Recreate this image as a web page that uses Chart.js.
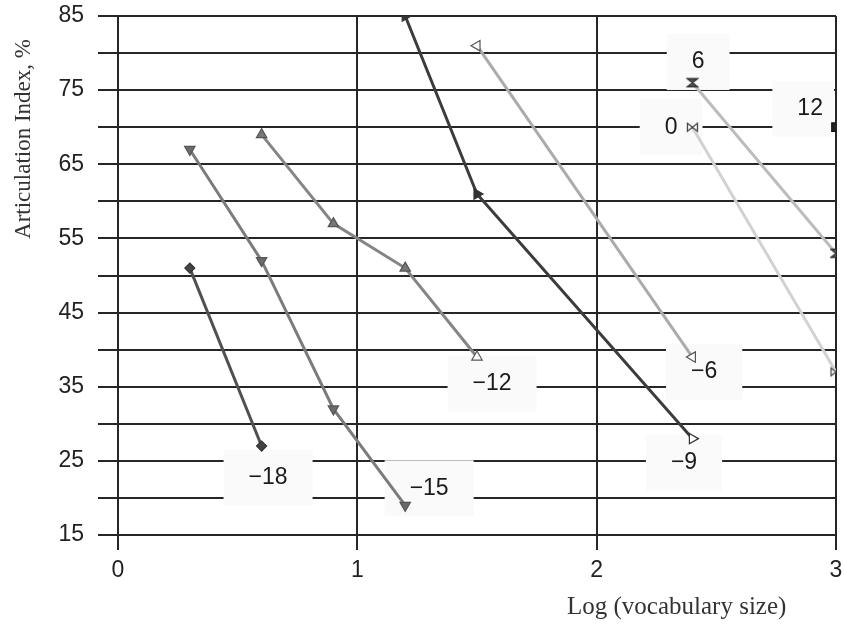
<!DOCTYPE html>
<html>
<head>
<meta charset="utf-8">
<script src="https://cdn.jsdelivr.net/npm/chart.js@4.4.0/dist/chart.umd.min.js"></script>
<style>
html,body{margin:0;padding:0;background:#fff;}
#wrap{width:844px;height:629px;}
</style>
</head>
<body>
<div id="wrap"><canvas id="chart" width="844" height="629"></canvas></div>
<script>
// SNR (dB) curves: articulation index vs log vocabulary size
const snrLabels = ['\u221218','\u221215','\u221212','\u22129','\u22126','0','6','12'];
const logVocab = [[0.3,0.6],[0.3,0.6,0.9,1.2],[0.6,0.9,1.2,1.5],[1.2,1.5,2.4],[1.5,2.4],[2.4,3],[2.4,3],[3]];
const artIndex = [[51,27],[67,52,32,19],[69,57,51,39],[85,61,28],[81,39],[70,37],[76,53],[70]];
const xTicks = [0,1,2,3];
const yLabelTicks = [15,25,35,45,55,65,75,85];
// where each SNR label sits (data units)
const labelX = [0.627,1.30,1.563,2.365,2.449,2.311,2.424,2.892];
const labelY = [22.7,21.3,35.4,24.8,37.0,70.0,78.8,72.5];

const GRID = '#262626';
const TICKFONT = {family:"'Liberation Sans', Arial, sans-serif", size:23};

// small canvas markers for the bowtie / hourglass symbols
function makeMarker(kind, fill, stroke){
  const c = document.createElement('canvas');
  c.width = 13; c.height = 11;
  const g = c.getContext('2d');
  g.fillStyle = fill; g.strokeStyle = stroke; g.lineWidth = 1.3;
  g.beginPath();
  if(kind === 'bowtie'){
    g.moveTo(1.5,1.5); g.lineTo(1.5,9.5); g.lineTo(6.5,5.5); g.closePath();
    g.moveTo(11.5,1.5); g.lineTo(11.5,9.5); g.lineTo(6.5,5.5); g.closePath();
  }else{
    g.moveTo(1.5,1.5); g.lineTo(11.5,1.5); g.lineTo(6.5,5.5); g.closePath();
    g.moveTo(1.5,9.5); g.lineTo(11.5,9.5); g.lineTo(6.5,5.5); g.closePath();
  }
  g.fill(); g.stroke();
  return c;
}

const seriesStyle = [
  {line:'#505050', fill:'#444', border:'#333', style:'rectRot', rot:0, r:5},
  {line:'#7b7b7b', fill:'#6a6a6a', border:'#555', style:'triangle', rot:180, r:6},
  {line:'#858585', fill:['#777','#777','#777','#fff'], border:'#555', style:'triangle', rot:0, r:6},
  {line:'#3c3c3c', fill:['#333','#333','#fff'], border:'#333', style:'triangle', rot:90, r:6},
  {line:'#ababab', fill:'#fff', border:'#555', style:'triangle', rot:-90, r:6},
  {line:'#d2d2d2', style:makeMarker('bowtie','#fff','#444'), rot:0, r:6},
  {line:'#bcbcbc', style:makeMarker('hourglass','#555','#333'), rot:0, r:6},
  {line:'#111', fill:'#222', border:'#111', style:'rect', rot:0, r:6}
];

const datasets = snrLabels.map((lab,i)=>{
  const s = seriesStyle[i];
  return {
    label: lab,
    data: logVocab[i].map((x,j)=>({x, y: artIndex[i][j]})),
    showLine: true,
    borderColor: s.line,
    borderWidth: 3,
    pointStyle: s.style,
    pointRotation: s.rot,
    pointRadius: s.r,
    pointBackgroundColor: s.fill || '#fff',
    pointBorderColor: s.border || '#333',
    pointBorderWidth: 1.2
  };
});

// white boxes with the SNR numbers, drawn over the grid but under the lines
const snrLabelPlugin = {
  id:'snrLabels',
  beforeDatasetsDraw(chart){
    const {ctx, scales:{x,y}} = chart;
    ctx.save();
    ctx.font = "23px 'Liberation Sans', Arial, sans-serif";
    ctx.textAlign = 'center';
    ctx.textBaseline = 'middle';
    snrLabels.forEach((lab,i)=>{
      const px = x.getPixelForValue(labelX[i]);
      const py = y.getPixelForValue(labelY[i]);
      const w = ctx.measureText(lab).width + 50;
      let left = px - w/2, right = px + w/2;
      if(right > chart.chartArea.right - 2) right = chart.chartArea.right - 2;
      ctx.fillStyle = '#fafafa';
      ctx.fillRect(left, py - 28, right - left, 56);
      ctx.fillStyle = '#1a1a1a';
      ctx.fillText(lab, px, py);
    });
    ctx.restore();
  },
  afterDraw(chart){
    const {ctx} = chart;
    ctx.save();
    ctx.fillStyle = '#333';
    ctx.textBaseline = 'middle';
    ctx.textAlign = 'left';
    ctx.font = "25px 'Liberation Serif', 'Times New Roman', serif";
    ctx.fillText('Log (vocabulary size)', 567, 607);
    ctx.font = "23px 'Liberation Serif', 'Times New Roman', serif";
    ctx.translate(24, 139);
    ctx.rotate(-Math.PI/2);
    ctx.textAlign = 'center';
    ctx.fillText('Articulation Index, %', 0, 0);
    ctx.restore();
  }
};

new Chart(document.getElementById('chart'), {
  type:'scatter',
  data:{datasets},
  options:{
    responsive:false,
    animation:false,
    devicePixelRatio:1,
    layout:{padding:{top:16, right:8, left:0, bottom:0}},
    plugins:{legend:{display:false}, tooltip:{enabled:false}},
    scales:{
      x:{
        type:'linear', min:xTicks[0], max:xTicks[xTicks.length-1],
        afterBuildTicks(scale){ scale.ticks = xTicks.map(v=>({value:v})); },
        afterFit(scale){ scale.height = 94; scale.paddingLeft = 0; scale.paddingRight = 0; },
        ticks:{color:'#222', font:TICKFONT, padding:7, maxRotation:0},
        grid:{color:GRID, lineWidth:2, tickLength:15, tickColor:GRID},
        border:{color:GRID, width:2}
      },
      y:{
        min:15, max:85,
        ticks:{stepSize:5, autoSkip:false, color:'#222', font:TICKFONT, padding:14,
          callback:(v)=> yLabelTicks.includes(v) ? String(v) : ''},
        afterFit(scale){ scale.width = 118; scale.paddingTop = 0; scale.paddingBottom = 0; },
        grid:{color:GRID, lineWidth:2, tickLength:20, tickColor:GRID},
        border:{color:GRID, width:2}
      }
    }
  },
  plugins:[snrLabelPlugin]
});
</script>
</body>
</html>
